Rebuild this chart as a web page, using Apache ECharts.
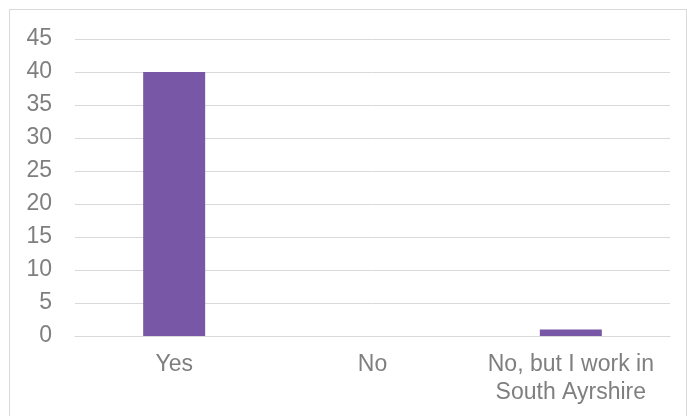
<!DOCTYPE html>
<html>
<head>
<meta charset="utf-8">
<script src="https://cdn.jsdelivr.net/npm/echarts@6/dist/echarts.min.js"></script>
<style>
  html, body { margin: 0; padding: 0; background: #fff; }
  #frame { position: absolute; left: 9px; top: 9px; width: 678px; height: 410px; border: 1px solid #d9d9d9; box-sizing: border-box; }
  #chart { position: absolute; left: 0; top: 0; width: 687px; height: 416px; }
</style>
</head>
<body>
<div id="frame"></div>
<div id="chart"></div>
<script>
// answers and counts
var categories = ['Yes', 'No', 'No, but I work in\nSouth Ayrshire'];
var counts = [40, 0, 1];

var chart = echarts.init(document.getElementById('chart'));
var option = {
    animation: false,
    grid: { left: 75, right: 17, top: 39, bottom: 80 },
    xAxis: {
        type: 'category',
        data: categories,
        axisTick: { show: false },
        axisLine: { lineStyle: { color: '#d9d9d9', width: 1 } },
        axisLabel: { interval: 0, color: '#7f7f7f', fontSize: 23, fontFamily: 'Liberation Sans', margin: 15, lineHeight: 28 }
    },
    yAxis: {
        type: 'value',
        min: 0,
        max: 45,
        interval: 5,
        axisLine: { show: false },
        axisTick: { show: false },
        splitLine: { lineStyle: { color: '#d9d9d9', width: 1 } },
        axisLabel: { color: '#7f7f7f', fontSize: 23, fontFamily: 'Liberation Sans', margin: 23 }
    },
    series: [{
        type: 'bar',
        data: counts,
        barWidth: 62,
        itemStyle: { color: '#7858a6' }
    }]
};
chart.setOption(option);
</script>
</body>
</html>
